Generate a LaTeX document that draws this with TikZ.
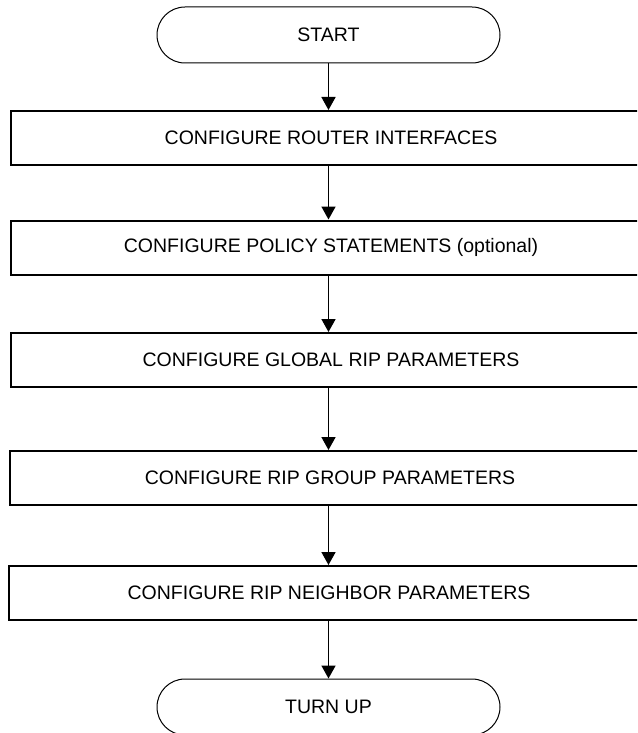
\documentclass[tikz,border=0pt]{standalone}
\usepackage{fontspec}
\setmainfont{Liberation Sans}
\usetikzlibrary{arrows.meta}
\usetikzlibrary{positioning}
\tikzset{term/.style = {draw, line width = 1pt, rounded corners = 28pt, minimum width = 343pt, minimum height = 56pt, inner sep = 0}}
\tikzset{proc/.style = {draw, line width = 2pt, minimum width = 640pt, minimum height = 54pt, inner sep = 0}}
\tikzset{flow/.style = {line width = 1.7pt, -{Triangle[length = 13pt, width = 14pt]}}}

\begin{document}
\begin{tikzpicture}[x = 1pt, y = -1pt, font = \fontsize{19.5}{23}\selectfont]
    \useasboundingbox (0, 0) rectangle (637, 733);
    \clip (0, 0) rectangle (637, 733);

    \node [term] (start) at (328.5, 35) {START};
    \node [proc] (iface) at (331, 138) {CONFIGURE ROUTER INTERFACES};
    \node [proc] (policy) at (331, 247.5) {CONFIGURE POLICY STATEMENTS (optional)};
    \node [proc] (global) at (331, 360) {CONFIGURE GLOBAL RIP PARAMETERS};
    \node [proc] (group) at (330, 478) {CONFIGURE RIP GROUP PARAMETERS};
    \node [proc] (neigh) at (329, 593) {CONFIGURE RIP NEIGHBOR PARAMETERS};
    \node [term] (turnup) at (328.5, 707) {TURN UP};

    \draw [flow] (start) -- (start |- iface.north);
    \draw [flow] (start |- iface.south) -- (start |- policy.north);
    \draw [flow] (start |- policy.south) -- (start |- global.north);
    \draw [flow] (start |- global.south) -- (start |- group.north);
    \draw [flow] (start |- group.south) -- (start |- neigh.north);
    \draw [flow] (start |- neigh.south) -- (turnup);
  \end{tikzpicture}
\end{document}
